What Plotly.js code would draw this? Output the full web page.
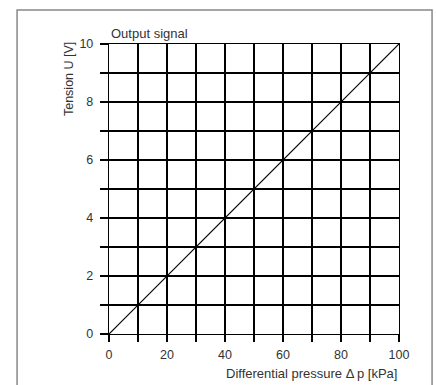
<!DOCTYPE html>
<html><head><meta charset="utf-8">
<script src="https://cdn.plot.ly/plotly-3.0.1.min.js"></script>
<style>html,body{margin:0;padding:0;background:#fff}#c{width:436px;height:385px}</style>
</head><body><div id="c"></div>
<script>
const pressure = [0, 100];
const tension = [0, 10];
const xTickVals = [0,10,20,30,40,50,60,70,80,90,100];
const xTickText = ['0','','20','','40','','60','','80','','100'];
const yTickVals = [0,1,2,3,4,5,6,7,8,9,10];
const yTickText = ['0','','2','','4','','6','','8','','10'];
const font = 'Liberation Sans, Arial, sans-serif';
const data = [{x: pressure, y: tension, type:'scatter', mode:'lines', line:{color:'#000', width:1.2}, hoverinfo:'skip'}];
const lw = 1.2;
const layout = {
  width:436, height:385,
  margin:{l:109, r:37, t:44, b:51},
  paper_bgcolor:'#fff', plot_bgcolor:'#fff',
  showlegend:false,
  font:{family:font, size:12, color:'#333'},
  xaxis:{range:[0,100], tickvals:xTickVals, ticktext:xTickText, ticks:'outside', ticklen:7, tickcolor:'#000', tickwidth:lw,
    showgrid:true, gridcolor:'#000', gridwidth:lw, zeroline:false, showline:true, mirror:true, linecolor:'#000', linewidth:lw,
    ticklabelstandoff:2, tickfont:{family:font,size:12.5,color:'#333'}, fixedrange:true},
  yaxis:{range:[0,10], tickvals:yTickVals, ticktext:yTickText, ticks:'outside', ticklen:8, tickcolor:'#000', tickwidth:lw,
    showgrid:true, gridcolor:'#000', gridwidth:lw, zeroline:false, showline:true, mirror:true, linecolor:'#000', linewidth:lw,
    ticklabelstandoff:4, tickfont:{family:font,size:12.5,color:'#333'}, fixedrange:true},
  annotations:[
    {text:'Output signal', xref:'paper', yref:'paper', x:0, y:1, xanchor:'left', yanchor:'bottom', yshift:1, showarrow:false, font:{family:font,size:13,color:'#333'}},
    {text:'Tension U [V]', xref:'paper', yref:'paper', x:-0.14, y:1.015, xanchor:'center', yanchor:'top', textangle:-90, showarrow:false, font:{family:font,size:12.5,color:'#333'}},
    {text:'Differential pressure \u0394\u2009p [kPa]', xref:'paper', yref:'paper', x:1.0, y:-0.105, xanchor:'right', yanchor:'top', showarrow:false, font:{family:font,size:13,color:'#333'}}
  ],
  shapes:[{type:'rect', xref:'paper', yref:'paper', x0:-0.317, x1:1.114, y0:-0.2, y1:1.117, line:{color:'#888', width:1.5}, layer:'below'}]
};
Plotly.newPlot('c', data, layout, {displayModeBar:false, staticPlot:true});
</script></body></html>
